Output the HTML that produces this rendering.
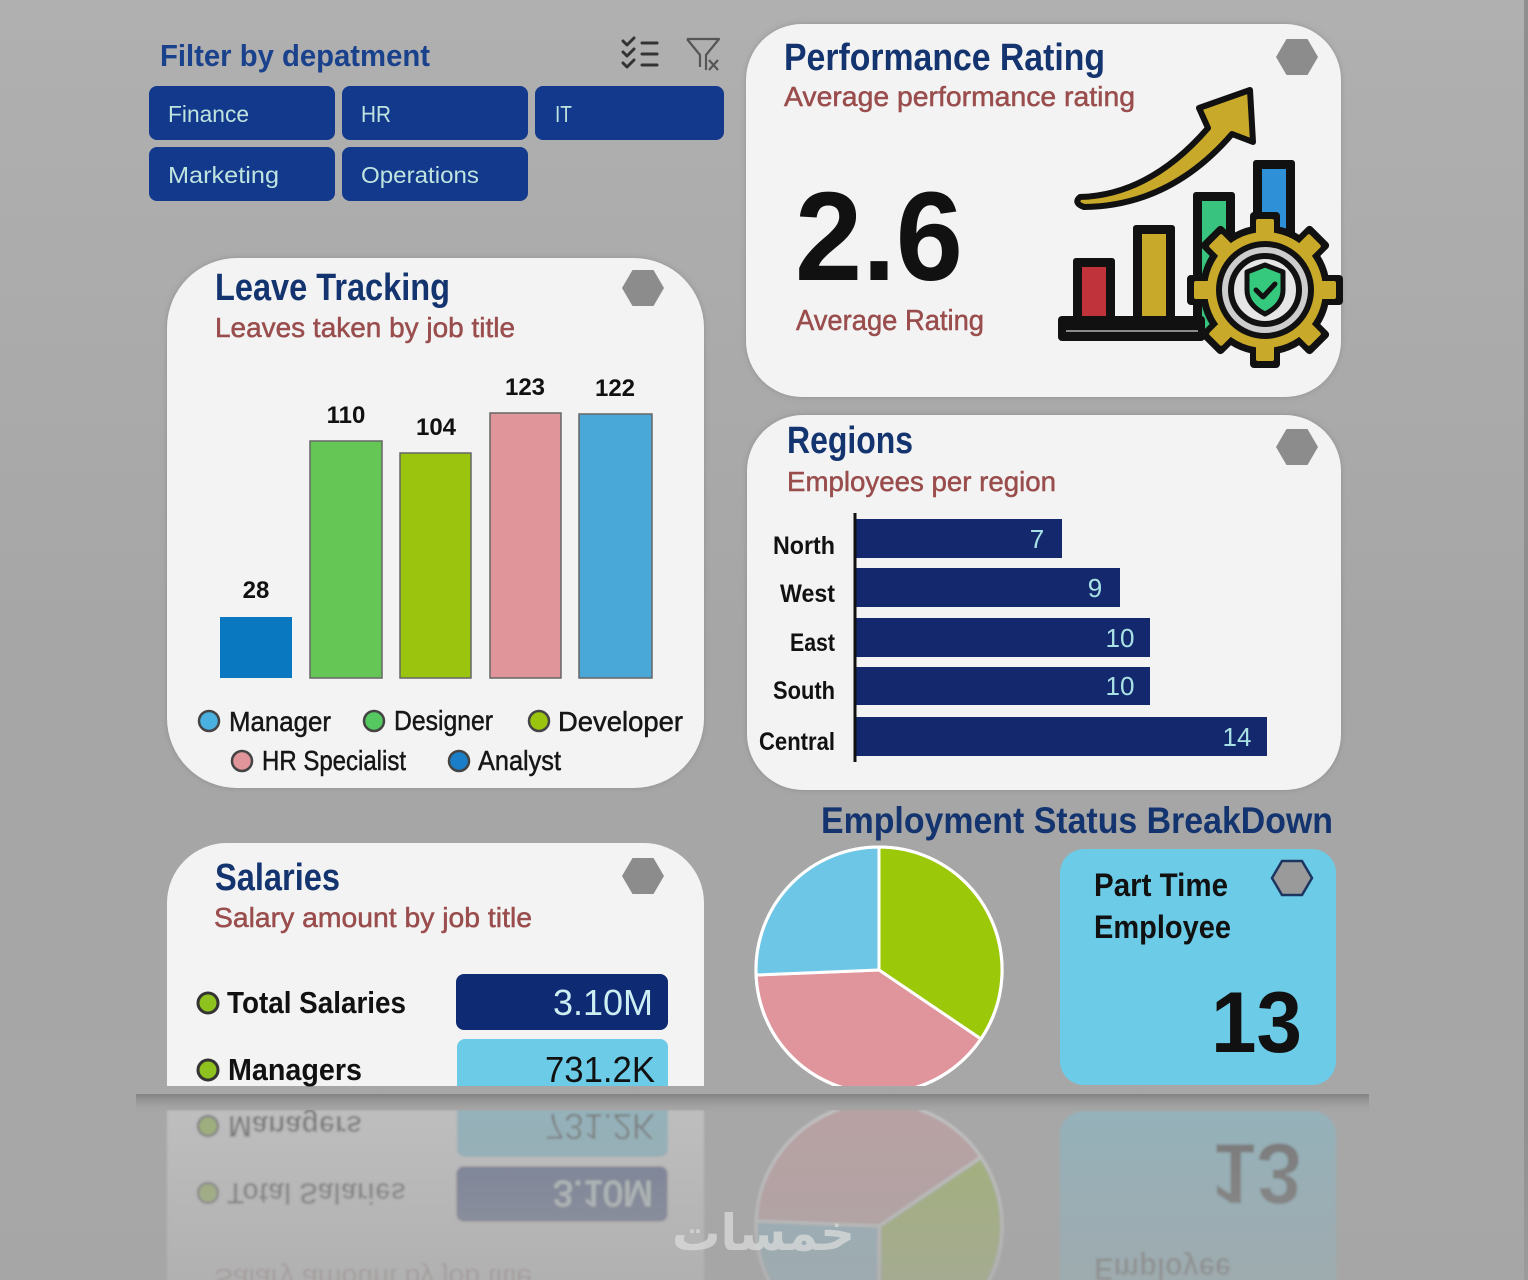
<!DOCTYPE html>
<html><head><meta charset="utf-8"><style>
html,body{margin:0;padding:0;width:1528px;height:1280px;overflow:hidden;background:#a8a8a8}
svg{display:block}
text{font-family:"Liberation Sans","DejaVu Sans",sans-serif}
</style></head><body>
<svg width="1528" height="1280" viewBox="0 0 1528 1280" xmlns="http://www.w3.org/2000/svg">
<defs>
<linearGradient id="bg" x1="0" y1="0" x2="0" y2="1">
<stop offset="0" stop-color="#b0b0b0"/><stop offset="0.5" stop-color="#a6a6a6"/><stop offset="1" stop-color="#a7a7a7"/>
</linearGradient>
<linearGradient id="shelf" x1="0" y1="0" x2="0" y2="1">
<stop offset="0" stop-color="#7e7e7e" stop-opacity="0.9"/><stop offset="1" stop-color="#a6a6a6" stop-opacity="0"/>
</linearGradient>
<linearGradient id="fade" x1="0" y1="0" x2="0" y2="1">
<stop offset="0" stop-color="#a6a6a6" stop-opacity="0"/><stop offset="1" stop-color="#a6a6a6" stop-opacity="0.55"/>
</linearGradient>
<filter id="sh" x="-5%" y="-5%" width="110%" height="110%"><feDropShadow dx="0" dy="0" stdDeviation="3" flood-color="#6e6e6e" flood-opacity="0.45"/></filter>
<filter id="bl"><feGaussianBlur stdDeviation="1"/></filter>
<clipPath id="cb"><rect x="0" y="0" width="1528" height="1086"/></clipPath>
<clipPath id="cr"><rect x="0" y="1110" width="1528" height="170"/></clipPath>
</defs>
<rect width="1528" height="1280" fill="url(#bg)"/>
<rect x="1524" y="0" width="4" height="1280" fill="#8f8f8f"/>

<!-- Filter section -->
<text x="160" y="66" font-size="31" font-weight="bold" fill="#1a418c" textLength="270" lengthAdjust="spacingAndGlyphs">Filter by depatment</text>
<g stroke="#333" stroke-width="3" fill="none" stroke-linecap="round" stroke-linejoin="round">
<polyline points="623,41 627,45 634,38"/><polyline points="623,52 627,56 634,49"/><polyline points="623,63 627,67 634,60"/>
<line x1="642" y1="43" x2="657" y2="43"/><line x1="642" y1="54" x2="657" y2="54"/><line x1="642" y1="65" x2="657" y2="65"/>
</g>
<g stroke="#555" stroke-width="2.2" fill="none" stroke-linejoin="round">
<path d="M687 39 L719 39 L706 55 L706 70 M687 39 L700 55 L700 67"/>
<path d="M709 60 L718 70 M718 60 L709 70"/>
</g>
<g fill="#12398c">
<rect x="149" y="86" width="186" height="54" rx="8"/><rect x="342" y="86" width="186" height="54" rx="8"/><rect x="535" y="86" width="189" height="54" rx="8"/>
<rect x="149" y="147" width="186" height="54" rx="8"/><rect x="342" y="147" width="186" height="54" rx="8"/>
</g>
<g fill="#bfe4df" font-size="23">
<text x="168" y="122" textLength="81" lengthAdjust="spacingAndGlyphs">Finance</text>
<text x="361" y="122" textLength="30" lengthAdjust="spacingAndGlyphs">HR</text>
<text x="555" y="122" textLength="17" lengthAdjust="spacingAndGlyphs">IT</text>
<text x="168" y="183" textLength="111" lengthAdjust="spacingAndGlyphs">Marketing</text>
<text x="361" y="183" textLength="118" lengthAdjust="spacingAndGlyphs">Operations</text>
</g>

<!-- Performance card -->
<rect x="746" y="24" width="595" height="373" rx="56" fill="#f3f3f3" filter="url(#sh)"/>
<polygon points="1276,57 1286.5,39 1307.5,39 1318,57 1307.5,75 1286.5,75" fill="#8c8c8c"/>
<text x="784" y="70" font-size="38" font-weight="bold" fill="#13346f" textLength="321" lengthAdjust="spacingAndGlyphs">Performance Rating</text>
<text x="784" y="106" font-size="28" fill="#9a4d4d" stroke="#9a4d4d" stroke-width="0.5" textLength="351" lengthAdjust="spacingAndGlyphs">Average performance rating</text>
<text x="795" y="280" font-size="126" font-weight="bold" fill="#111" textLength="168" lengthAdjust="spacingAndGlyphs">2.6</text>
<text x="796" y="330" font-size="29" fill="#9a4d4d" stroke="#9a4d4d" stroke-width="0.5" textLength="188" lengthAdjust="spacingAndGlyphs">Average Rating</text>
<!-- icon -->
<path d="M1080 197 Q1150 195 1208 128 L1199 108 L1250 90 L1253 142 L1232 134 Q1170 206 1084 207 Q1073 203 1080 197 Z" fill="#c9a92a" stroke="#111" stroke-width="6" stroke-linejoin="round"/>
<rect x="1193" y="192" width="42" height="140" fill="#111" rx="3"/><rect x="1202" y="201" width="24" height="131" fill="#38c47f"/>
<rect x="1253" y="160" width="42" height="140" fill="#111" rx="3"/><rect x="1262" y="169" width="24" height="131" fill="#2e90d6"/>
<rect x="1073" y="258" width="42" height="64" fill="#111" rx="3"/><rect x="1082" y="267" width="24" height="55" fill="#c0333a"/>
<rect x="1133" y="225" width="42" height="97" fill="#111" rx="3"/><rect x="1142" y="234" width="24" height="88" fill="#c9a92a"/>
<rect x="1058" y="316" width="147" height="25" fill="#111" rx="4"/>
<line x1="1066" y1="331" x2="1198" y2="331" stroke="#8a8a8a" stroke-width="2"/>
<g>
<g fill="#111">
<circle cx="1265" cy="290" r="65"/>
<rect x="1250" y="212" width="30" height="78" rx="4" transform="rotate(0 1265 290)"/>
<rect x="1250" y="212" width="30" height="78" rx="4" transform="rotate(45 1265 290)"/>
<rect x="1250" y="212" width="30" height="78" rx="4" transform="rotate(90 1265 290)"/>
<rect x="1250" y="212" width="30" height="78" rx="4" transform="rotate(135 1265 290)"/>
<rect x="1250" y="212" width="30" height="78" rx="4" transform="rotate(180 1265 290)"/>
<rect x="1250" y="212" width="30" height="78" rx="4" transform="rotate(225 1265 290)"/>
<rect x="1250" y="212" width="30" height="78" rx="4" transform="rotate(270 1265 290)"/>
<rect x="1250" y="212" width="30" height="78" rx="4" transform="rotate(315 1265 290)"/>
</g>
<g fill="#c9a92a">
<circle cx="1265" cy="290" r="58"/>
<rect x="1256" y="219" width="18" height="71" rx="2" transform="rotate(0 1265 290)"/>
<rect x="1256" y="219" width="18" height="71" rx="2" transform="rotate(45 1265 290)"/>
<rect x="1256" y="219" width="18" height="71" rx="2" transform="rotate(90 1265 290)"/>
<rect x="1256" y="219" width="18" height="71" rx="2" transform="rotate(135 1265 290)"/>
<rect x="1256" y="219" width="18" height="71" rx="2" transform="rotate(180 1265 290)"/>
<rect x="1256" y="219" width="18" height="71" rx="2" transform="rotate(225 1265 290)"/>
<rect x="1256" y="219" width="18" height="71" rx="2" transform="rotate(270 1265 290)"/>
<rect x="1256" y="219" width="18" height="71" rx="2" transform="rotate(315 1265 290)"/>
</g>
<circle cx="1265" cy="290" r="46" fill="#cdcdcd" stroke="#111" stroke-width="6"/>
<circle cx="1265" cy="290" r="34" fill="#e6e6e6" stroke="#111" stroke-width="6"/>
<path d="M1265 265 L1283 272 L1283 290 Q1283 305 1265 314 Q1247 305 1247 290 L1247 272 Z" fill="#35c97e" stroke="#111" stroke-width="5" stroke-linejoin="round"/>
<polyline points="1256,290 1263,297 1275,284" fill="none" stroke="#111" stroke-width="5" stroke-linecap="round" stroke-linejoin="round"/>
</g>

<!-- Leave Tracking card -->
<rect x="167" y="258" width="537" height="530" rx="70" fill="#f3f3f3" filter="url(#sh)"/>
<polygon points="622,288 632.5,270 653.5,270 664,288 653.5,306 632.5,306" fill="#8c8c8c"/>
<text x="215" y="300" font-size="38" font-weight="bold" fill="#13346f" textLength="235" lengthAdjust="spacingAndGlyphs">Leave Tracking</text>
<text x="215" y="337" font-size="28" fill="#9a4d4d" stroke="#9a4d4d" stroke-width="0.5" textLength="300" lengthAdjust="spacingAndGlyphs">Leaves taken by job title</text>
<rect x="220" y="617" width="72" height="61" fill="#0a78c0"/>
<rect x="310" y="441" width="72" height="237" fill="#66c655" stroke="#666" stroke-width="1.5"/>
<rect x="400" y="453" width="71" height="225" fill="#9ac40e" stroke="#666" stroke-width="1.5"/>
<rect x="490" y="413" width="71" height="265" fill="#e0959a" stroke="#666" stroke-width="1.5"/>
<rect x="579" y="414" width="73" height="264" fill="#4aa8d8" stroke="#666" stroke-width="1.5"/>
<g font-size="24" font-weight="bold" fill="#111" text-anchor="middle">
<text x="256" y="598">28</text><text x="346" y="423">110</text><text x="436" y="435">104</text><text x="525" y="395">123</text><text x="615" y="396">122</text>
</g>
<g stroke="#444" stroke-width="2.5">
<circle cx="209" cy="721" r="10" fill="#4ab0e0"/><circle cx="374" cy="721" r="10" fill="#55c860"/><circle cx="539" cy="721" r="10" fill="#9ac40e"/>
<circle cx="242" cy="761" r="10" fill="#e0959a"/><circle cx="459" cy="761" r="10" fill="#1a7fc8"/>
</g>
<g font-size="28" fill="#161616" stroke="#161616" stroke-width="0.5">
<text x="229" y="731" textLength="102" lengthAdjust="spacingAndGlyphs">Manager</text>
<text x="394" y="730" textLength="99" lengthAdjust="spacingAndGlyphs">Designer</text>
<text x="558" y="731" textLength="125" lengthAdjust="spacingAndGlyphs">Developer</text>
<text x="262" y="770" textLength="144" lengthAdjust="spacingAndGlyphs">HR Specialist</text>
<text x="478" y="770" textLength="83" lengthAdjust="spacingAndGlyphs">Analyst</text>
</g>

<!-- Regions card -->
<rect x="747" y="415" width="594" height="375" rx="56" fill="#f3f3f3" filter="url(#sh)"/>
<polygon points="1276,447 1286.5,429 1307.5,429 1318,447 1307.5,465 1286.5,465" fill="#8c8c8c"/>
<text x="787" y="453" font-size="38" font-weight="bold" fill="#13346f" textLength="126" lengthAdjust="spacingAndGlyphs">Regions</text>
<text x="787" y="491" font-size="28" fill="#9a4d4d" stroke="#9a4d4d" stroke-width="0.5" textLength="269" lengthAdjust="spacingAndGlyphs">Employees per region</text>
<g fill="#14286e">
<rect x="855" y="519" width="207" height="39"/><rect x="855" y="568" width="265" height="39"/><rect x="855" y="618" width="295" height="39"/>
<rect x="855" y="667" width="295" height="38"/><rect x="855" y="717" width="412" height="39"/>
</g>
<line x1="855" y1="513" x2="855" y2="762" stroke="#111" stroke-width="3"/>
<g font-size="25" font-weight="bold" fill="#111">
<text x="773" y="554" textLength="62" lengthAdjust="spacingAndGlyphs">North</text>
<text x="780" y="602" textLength="55" lengthAdjust="spacingAndGlyphs">West</text>
<text x="790" y="651" textLength="45" lengthAdjust="spacingAndGlyphs">East</text>
<text x="773" y="699" textLength="62" lengthAdjust="spacingAndGlyphs">South</text>
<text x="759" y="750" textLength="76" lengthAdjust="spacingAndGlyphs">Central</text>
</g>
<g font-size="26" fill="#a9e2e4" text-anchor="middle">
<text x="1037" y="548">7</text><text x="1095" y="597">9</text><text x="1120" y="647">10</text><text x="1120" y="695">10</text><text x="1237" y="746">14</text>
</g>

<!-- Employment status title -->
<text x="821" y="833" font-size="37" font-weight="bold" fill="#13346f" textLength="512" lengthAdjust="spacingAndGlyphs">Employment Status BreakDown</text>

<!-- Bottom content -->
<g>
<path d="M167 1086 L167 903 A60 60 0 0 1 227 843 L644 843 A60 60 0 0 1 704 903 L704 1086 Z" fill="#f3f3f3"/>
<polygon points="622,876 632.5,858 653.5,858 664,876 653.5,894 632.5,894" fill="#8c8c8c"/>
<text x="215" y="890" font-size="38" font-weight="bold" fill="#13346f" textLength="125" lengthAdjust="spacingAndGlyphs">Salaries</text>
<text x="214" y="927" font-size="28" fill="#9a4d4d" stroke="#9a4d4d" stroke-width="0.5" textLength="318" lengthAdjust="spacingAndGlyphs">Salary amount by job title</text>
<circle cx="208" cy="1003" r="10" fill="#8dc21f" stroke="#333" stroke-width="3"/>
<circle cx="208" cy="1070" r="10" fill="#8dc21f" stroke="#333" stroke-width="3"/>
<text x="227" y="1013" font-size="31" font-weight="bold" fill="#111" textLength="179" lengthAdjust="spacingAndGlyphs">Total Salaries</text>
<text x="228" y="1080" font-size="31" font-weight="bold" fill="#111" textLength="134" lengthAdjust="spacingAndGlyphs">Managers</text>
<rect x="456" y="974" width="212" height="56" rx="8" fill="#0d2a72"/>
<text x="553" y="1015" font-size="36" fill="#cdeef2" textLength="100" lengthAdjust="spacingAndGlyphs">3.10M</text>
<g clip-path="url(#cb)">
<rect x="457" y="1039" width="211" height="60" rx="8" fill="#6ccbe6"/>
<path d="M879 970 L879 847 A123 123 0 0 1 981 1039 Z" fill="#9cc80a" stroke="#fff" stroke-width="3" stroke-linejoin="round"/>
<path d="M879 970 L981 1039 A123 123 0 0 1 756 975 Z" fill="#e0959c" stroke="#fff" stroke-width="3" stroke-linejoin="round"/>
<path d="M879 970 L756 975 A123 123 0 0 1 879 847 Z" fill="#6ec6e6" stroke="#fff" stroke-width="3" stroke-linejoin="round"/>
<circle cx="879" cy="970" r="123" fill="none" stroke="#fff" stroke-width="3"/>
</g>
<text x="545" y="1082" font-size="36" fill="#111" textLength="110" lengthAdjust="spacingAndGlyphs">731.2K</text>
<rect x="1060" y="849" width="276" height="236" rx="24" fill="#6ccbe6"/>
<polygon points="1272,878 1282,861 1302,861 1312,878 1302,895 1282,895" fill="#9a9a9a" stroke="#1d3660" stroke-width="2.5"/>
<text x="1094" y="896" font-size="32" font-weight="bold" fill="#111" textLength="134" lengthAdjust="spacingAndGlyphs">Part Time</text>
<text x="1094" y="938" font-size="32" font-weight="bold" fill="#111" textLength="137" lengthAdjust="spacingAndGlyphs">Employee</text>
<text x="1211" y="1052" font-size="86" font-weight="bold" fill="#111" textLength="91" lengthAdjust="spacingAndGlyphs">13</text>
</g>

<!-- Shelf -->
<rect x="136" y="1094" width="1233" height="20" fill="url(#shelf)"/>

<!-- Reflection -->
<g clip-path="url(#cr)">
<g opacity="0.3" filter="url(#bl)" transform="translate(0,2196) scale(1,-1)">
<path d="M167 1086 L167 903 A60 60 0 0 1 227 843 L644 843 A60 60 0 0 1 704 903 L704 1086 Z" fill="#f3f3f3"/>
<text x="214" y="927" font-size="28" fill="#9a4d4d" textLength="318" lengthAdjust="spacingAndGlyphs">Salary amount by job title</text>
<circle cx="208" cy="1003" r="10" fill="#8dc21f" stroke="#333" stroke-width="3"/>
<circle cx="208" cy="1070" r="10" fill="#8dc21f" stroke="#333" stroke-width="3"/>
<text x="227" y="1013" font-size="31" font-weight="bold" fill="#111" textLength="179" lengthAdjust="spacingAndGlyphs">Total Salaries</text>
<text x="228" y="1080" font-size="31" font-weight="bold" fill="#111" textLength="134" lengthAdjust="spacingAndGlyphs">Managers</text>
<rect x="456" y="974" width="212" height="56" rx="8" fill="#0d2a72"/>
<text x="553" y="1015" font-size="36" fill="#cdeef2" textLength="100" lengthAdjust="spacingAndGlyphs">3.10M</text>
<g clip-path="url(#cb)">
<rect x="457" y="1039" width="211" height="60" rx="8" fill="#6ccbe6"/>
<path d="M879 970 L879 847 A123 123 0 0 1 981 1039 Z" fill="#9cc80a" stroke="#fff" stroke-width="3"/>
<path d="M879 970 L981 1039 A123 123 0 0 1 756 975 Z" fill="#e0959c" stroke="#fff" stroke-width="3"/>
<path d="M879 970 L756 975 A123 123 0 0 1 879 847 Z" fill="#6ec6e6" stroke="#fff" stroke-width="3"/>
</g>
<text x="545" y="1082" font-size="36" fill="#111" textLength="110" lengthAdjust="spacingAndGlyphs">731.2K</text>
<rect x="1060" y="849" width="276" height="236" rx="24" fill="#6ccbe6"/>
<text x="1094" y="938" font-size="32" font-weight="bold" fill="#111" textLength="137" lengthAdjust="spacingAndGlyphs">Employee</text>
<text x="1211" y="1052" font-size="86" font-weight="bold" fill="#111" textLength="91" lengthAdjust="spacingAndGlyphs">13</text>
</g>
</g>
<rect x="0" y="1112" width="1528" height="168" fill="url(#fade)"/>

<!-- Watermark -->
<text x="672" y="1250" font-size="50" font-weight="bold" fill="#dedede" opacity="0.7" textLength="183" lengthAdjust="spacingAndGlyphs" style="font-family:'DejaVu Sans',sans-serif">خمسات</text>
</svg>
</body></html>
